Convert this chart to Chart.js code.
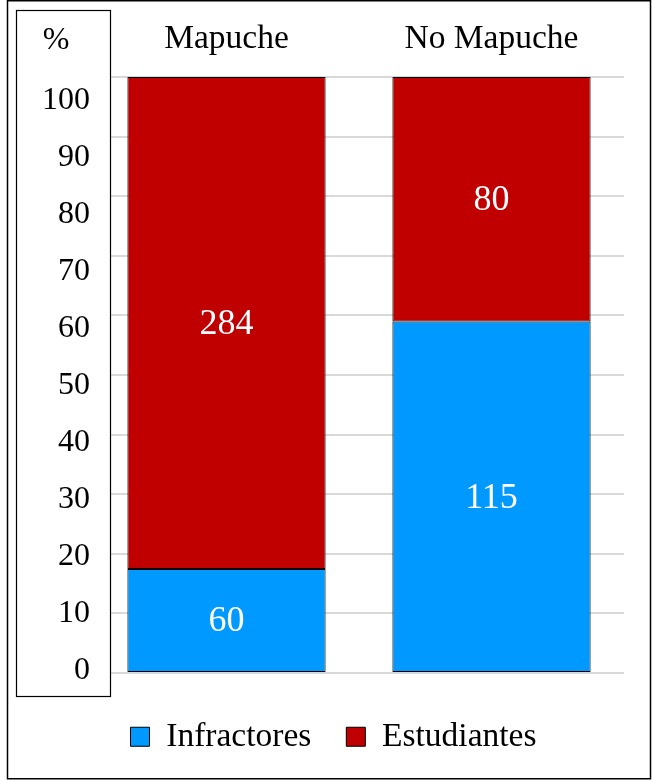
<!DOCTYPE html>
<html>
<head>
<meta charset="utf-8">
<script src="https://cdn.jsdelivr.net/npm/chart.js@4/dist/chart.umd.min.js"></script>
<style>
  html, body { margin: 0; padding: 0; background: #fff; }
</style>
</head>
<body>
<canvas id="chart" width="652" height="780"></canvas>
<script>
const categories = ['Mapuche', 'No Mapuche'];
const infractores = [60, 115];
const estudiantes = [284, 80];
const yTicks = [0, 10, 20, 30, 40, 50, 60, 70, 80, 90, 100];

const serif = '"Liberation Serif", "Times New Roman", serif';

// share of each group in the column, in %
function share(part, other) {
    return part.map((v, i) => 100 * v / (v + other[i]));
}

const framePlugin = {
    id: 'frame',
    beforeDraw(chart) {
	const ctx = chart.ctx;
	ctx.save();
	ctx.fillStyle = '#fff';
	ctx.fillRect(0, 0, chart.width, chart.height);
	ctx.strokeStyle = '#000';
	ctx.lineWidth = 1.5;
	ctx.strokeRect(7.5, 0.75, 643, 778);
	ctx.restore();
    },
    beforeDatasetsDraw(chart) {
	// the text box that holds the % scale
	const ctx = chart.ctx;
	ctx.save();
	ctx.fillStyle = '#fff';
	ctx.fillRect(16, 10, 94, 686);
	ctx.strokeStyle = '#000';
	ctx.lineWidth = 1.2;
	ctx.strokeRect(16.5, 10.5, 94, 686);
	ctx.fillStyle = '#000';
	ctx.font = '32px ' + serif;
	ctx.textAlign = 'center';
	ctx.textBaseline = 'middle';
	ctx.fillText('%', 56, 41);
	ctx.restore();
    },
    afterDatasetsDraw(chart) {
	const ctx = chart.ctx;
	ctx.save();
	ctx.fillStyle = '#fff';
	ctx.font = '36px ' + serif;
	ctx.textAlign = 'center';
	ctx.textBaseline = 'middle';
	chart.data.datasets.forEach((ds, di) => {
	    chart.getDatasetMeta(di).data.forEach((bar, i) => {
		const p = bar.getProps(['x', 'y', 'base'], true);
		ctx.fillText(String(ds.counts[i]), p.x, (p.y + p.base) / 2 + 1.5);
	    });
	});
	ctx.restore();
    }
};

const data = {
    labels: categories,
    datasets: [{
	label: 'Infractores',
	data: share(infractores, estudiantes),
	counts: infractores,
	backgroundColor: '#0099ff',
	borderColor: '#000',
	borderWidth: 1,
	borderSkipped: false,
	barPercentage: 0.748,
	categoryPercentage: 1
    }, {
	label: 'Estudiantes',
	data: share(estudiantes, infractores),
	counts: estudiantes,
	backgroundColor: '#c00000',
	borderColor: '#000',
	borderWidth: 1,
	borderSkipped: false,
	barPercentage: 0.748,
	categoryPercentage: 1
    }]
};

const options = {
    responsive: false,
    animation: false,
    layout: { padding: { left: 16, right: 1, top: 16, bottom: 16.5 } },
    plugins: {
	legend: {
	    position: 'bottom',
	    title: { display: true, text: '', padding: 0, font: { size: 10 } },
	    labels: {
		boxWidth: 19,
		boxHeight: 19,
		padding: 35,
		color: '#000',
		font: { family: serif, size: 33.5 }
	    }
	},
	tooltip: { enabled: false }
    },
    scales: {
	x: {
	    position: 'top',
	    stacked: true,
	    grid: { display: false },
	    border: { display: false },
	    ticks: { color: '#000', padding: 10, font: { family: serif, size: 33.5 } },
	    afterFit: (s) => { s.height = 61; }
	},
	y: {
	    stacked: true,
	    min: 0,
	    max: 100,
	    ticks: { display: false, stepSize: 10 },
	    grid: { color: '#d9d9d9', lineWidth: 2, drawTicks: false },
	    border: { display: false },
	    afterFit: (s) => { s.width = 0; }
	},
	yl: {
	    position: 'left',
	    min: -0.45,
	    max: 104.05,
	    grid: { display: false, drawTicks: false },
	    border: { display: false },
	    ticks: { z: 1, color: '#000', padding: 4, font: { family: serif, size: 32 } },
	    afterBuildTicks: (s) => { s.ticks = yTicks.map(v => ({ value: v })); },
	    afterFit: (s) => { s.width = 78; }
	},
	// empty right-hand strip, keeps the legend centred where it was
	yr: {
	    position: 'right',
	    min: 0,
	    max: 100,
	    grid: { display: false, drawTicks: false },
	    border: { display: false },
	    ticks: { display: false },
	    afterFit: (s) => { s.width = 27; }
	}
    }
};

new Chart(document.getElementById('chart').getContext('2d'), {
    type: 'bar',
    data: data,
    options: options,
    plugins: [framePlugin]
});
</script>
</body>
</html>
